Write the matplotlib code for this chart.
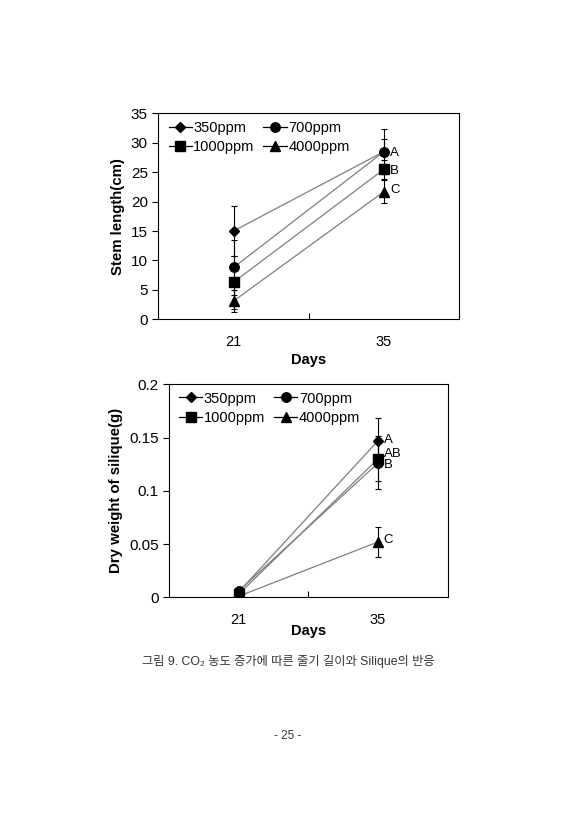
import numpy as np
import matplotlib
matplotlib.use('Agg')
import matplotlib.pyplot as plt

plt.rcParams['font.family'] = ['Liberation Sans', 'Noto Sans CJK KR', 'DejaVu Sans']

# 데이터
days = ['21', '35']
labels = ['350ppm', '700ppm', '1000ppm', '4000ppm']
markers = ['D', 'o', 's', '^']
msizes = [5, 6.8, 6.8, 6.8]

stem = [[15.0, 28.5], [8.8, 28.5], [6.3, 25.5], [3.1, 21.7]]
stem_err = [[4.3, 3.8], [4.6, 2.2], [4.5, 1.6], [1.8, 1.9]]
stem_letters = ['A', 'B', 'C']
stem_letter_y = [28.3, 25.2, 21.9]

silique = [[0.005, 0.147], [0.006, 0.126], [0.003, 0.130], [0.001, 0.052]]
silique_err = [[0.002, 0.021], [0.002, 0.024], [0.001, 0.021], [0.001, 0.014]]
sil_letters = ['A', 'AB', 'B', 'C']
sil_letter_y = [0.148, 0.135, 0.124, 0.054]

fig = plt.figure(figsize=(5.71, 8.40), dpi=100)


def draw_panel(ax, values, errors, ylabel, ymax, ystep, letters, letter_y, yfmt):
    x = np.arange(len(days)) + 0.5
    handles = []
    for v, e, m, ms, lab in zip(values, errors, markers, msizes, labels):
        ax.plot(x, v, color='#7f7f7f', lw=0.9, zorder=1)
        ax.errorbar(x, v, yerr=e, fmt='none', ecolor='black', elinewidth=0.8,
                    capsize=2.5, capthick=0.8, zorder=2)
        ax.plot(x, v, ls='none', marker=m, ms=ms, color='black', zorder=3)
        # legend handle
        h, = ax.plot([], [], color='black', lw=0.9, marker=m, ms=ms, label=lab)
        handles.append(h)
    for t, ty in zip(letters, letter_y):
        ax.text(x[1] + 0.04, ty, t, fontsize=9.5, va='center', ha='left')
    ax.set_xlim(0, len(days))
    ax.set_ylim(0, ymax)
    ax.set_xticks([1])
    ax.set_xticklabels([''])
    ax.tick_params(axis='x', direction='in', length=4)
    for xi, d in zip(x, days):
        ax.text(xi, -0.075, d, transform=ax.get_xaxis_transform(), ha='center',
                va='top', fontsize=10.5)
    yt = np.arange(0, ymax + ystep / 2, ystep)
    ax.set_yticks(yt)
    ax.set_yticklabels([yfmt(t) for t in yt])
    ax.tick_params(axis='y', direction='out', length=4, labelsize=11)
    ax.set_ylabel(ylabel, fontsize=10.8, fontweight='bold')
    for s in ax.spines.values():
        s.set_linewidth(0.8)
    # 행 우선 순서로 범례 배치
    order = [0, 2, 1, 3]
    ax.legend([handles[i] for i in order], [labels[i] for i in order],
              loc='upper left', ncol=2, frameon=False, fontsize=10.5,
              handlelength=1.6, handletextpad=0.1, columnspacing=0.6,
              labelspacing=0.35, borderaxespad=0.1, bbox_to_anchor=(0.01, 1.0))


ax1 = fig.add_axes([0.2772, 0.6199, 0.5271, 0.2452])
draw_panel(ax1, stem, stem_err, 'Stem length(cm)', 35, 5, stem_letters,
           stem_letter_y, lambda t: '%d' % t)
ax1.text(0.5, -0.165, 'Days', transform=ax1.transAxes, ha='center', va='top',
         fontsize=10.5, fontweight='bold')

ax2 = fig.add_axes([0.296, 0.2889, 0.488, 0.2536])
draw_panel(ax2, silique, silique_err, 'Dry weight of silique(g)', 0.2, 0.05,
           sil_letters, sil_letter_y, lambda t: '0' if t == 0 else ('%g' % round(t, 2)))
ax2.text(0.5, -0.125, 'Days', transform=ax2.transAxes, ha='center', va='top',
         fontsize=10.5, fontweight='bold')

fig.text(0.505, 0.212, '그림 9. CO₂ 농도 증가에 따른 줄기 길이와 Silique의 반응',
         ha='center', va='center', fontsize=8.8, color='#333333')
fig.text(0.503, 0.124, '- 25 -', ha='center', va='center', fontsize=8.5,
         color='#333333')

fig.savefig('out.png', dpi=100)
